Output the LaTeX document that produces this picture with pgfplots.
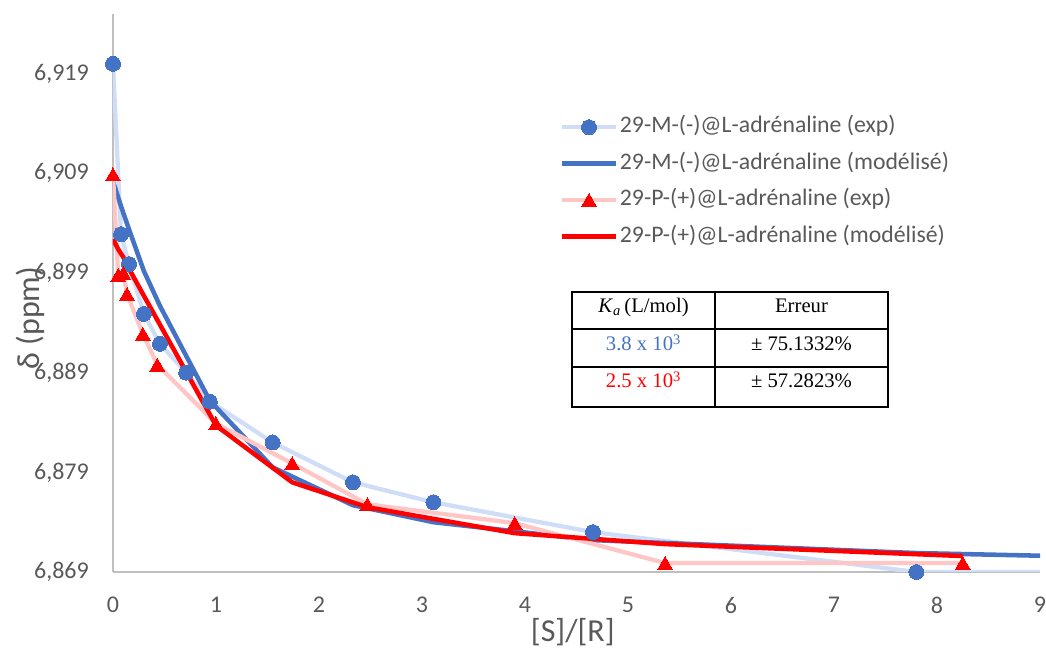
\documentclass[border=0pt]{standalone}
\usepackage{pgfplots}
\pgfplotsset{compat=1.18}
\usepackage{fontspec}
\setmainfont{Carlito}
\newfontfamily\tnr{Liberation Serif}
\definecolor{mblue}{HTML}{4472C4}
\definecolor{lblue}{HTML}{CFDDF7}
\definecolor{lred}{HTML}{FFC6C6}
\definecolor{tgray}{HTML}{595959}
\definecolor{agray}{HTML}{BFBFBF}
\begin{document}
\begin{tikzpicture}
\path[use as bounding box] (0,0) rectangle (784.5pt,491.25pt);
\begin{axis}[
  at={(84.75pt,62.25pt)}, anchor=south west, scale only axis,
  width=695.25pt, height=418.5pt,
  xmin=0, xmax=9, ymin=6.869, ymax=6.925,
  axis x line*=bottom, axis y line*=left,
  axis line style={agray, line width=1.5pt},
  major tick length=0pt,
  xtick={0,1,2,3,4,5,6,7,8,9},
  xticklabels={0,1,2,3,4,5,6,7,8,9},
  ytick={6.869,6.879,6.889,6.899,6.909,6.919},
  yticklabels={{6,869},{6,879},{6,889},{6,899},{6,909},{6,919}},
  ticklabel style={font=\fontsize{18}{18}\selectfont, text=tgray},
  xticklabel style={inner sep=0pt, anchor=north, yshift=-18.5pt},
  yticklabel style={inner sep=0pt, anchor=east, xshift=-18pt},
  xlabel={[S]/[R]}, ylabel={δ (ppm)},
  label style={font=\fontsize{24}{24}\selectfont, text=tgray},
  xlabel style={at={(axis description cs:0.496,-0.1075)}, anchor=center},
  ylabel style={at={(axis description cs:-0.0895,0.455)}, anchor=center},
  legend style={at={(axis description cs:0.482,0.822)}, anchor=north west,
    draw=none, fill=none, font=\fontsize{17.8}{20}\selectfont, text=tgray,
    row sep=6.8pt, inner sep=0pt,
    nodes={inner sep=1.5pt, text height=13pt, text depth=4.5pt}},
  legend cell align=left,
  legend image code/.code={\draw[mark repeat=2,mark phase=2,#1] plot coordinates {(0pt,0pt) (20pt,0pt) (40pt,0pt)};},
  clip=true,
]
\addplot[lblue, line width=3.2pt, mark=*, mark size=5.6pt,
  mark options={fill=mblue, draw=mblue, line width=0pt}] coordinates {
  (0,6.9200) (0.078,6.9029) (0.155,6.8999) (0.30,6.8949) (0.456,6.8919)
  (0.71,6.8890) (0.94,6.8861) (1.55,6.8820) (2.33,6.8780) (3.11,6.8760)
  (4.66,6.8730) (7.80,6.8690) (9.6,6.8690)};
\addlegendentry{29-M-(-)@L-adrénaline (exp)}
\addplot[mblue, line width=3.4pt] coordinates {
  (0,6.9082) (0.078,6.9057) (0.155,6.9034) (0.30,6.8992) (0.456,6.8957)
  (0.71,6.8907) (0.94,6.8862) (1.55,6.8795) (2.33,6.8757) (3.11,6.8740)
  (4.66,6.8722) (7.80,6.8709) (9.6,6.8705)};
\addlegendentry{29-M-(-)@L-adrénaline (modélisé)}
\addplot[lred, line width=3.2pt, mark=triangle*, mark size=6.5pt,
  mark options={fill=red, draw=red, line width=0pt, yshift=-1.6pt}] coordinates {
  (0,6.9089) (0.05,6.8988) (0.10,6.8990) (0.136,6.8969) (0.29,6.8929)
  (0.43,6.8898) (1.0,6.8839) (1.74,6.8799) (2.47,6.8758) (3.90,6.8739)
  (5.36,6.8699) (8.25,6.8699)};
\addlegendentry{29-P-(+)@L-adrénaline (exp)}
\addplot[red, line width=3.4pt] coordinates {
  (0,6.9024) (0.05,6.9014) (0.10,6.9006) (0.136,6.8998) (0.29,6.8969)
  (0.43,6.8943) (1.0,6.8837) (1.74,6.8780) (2.47,6.8755) (3.90,6.8729)
  (5.36,6.8718) (8.25,6.8706)};
\addlegendentry{29-P-(+)@L-adrénaline (modélisé)}
\end{axis}
\begin{scope}[x=0.75pt, y=0.75pt]
  \draw[black, line width=1.5pt] (572,248) rectangle (888,363);
  \draw[black, line width=1.5pt] (572,326) -- (888,326);
  \draw[black, line width=1.5pt] (572,288) -- (888,288);
  \draw[black, line width=1.5pt] (715,248) -- (715,363);
  \begin{scope}[every node/.style={font=\tnr\fontsize{15.5}{16}\selectfont, anchor=base, inner sep=0pt}]
    \node at (643.5,342) {\textit{K}\textsubscript{\textit{a}}\,(L/mol)};
    \node at (801.5,342) {Erreur};
    \node[text=mblue] at (643.5,304) {3.8 x 10\textsuperscript{3}};
    \node at (801.5,304) {± 75.1332\%};
    \node[text=red] at (643.5,267) {2.5 x 10\textsuperscript{3}};
    \node at (801.5,267) {± 57.2823\%};
  \end{scope}
\end{scope}
\end{tikzpicture}
\end{document}
